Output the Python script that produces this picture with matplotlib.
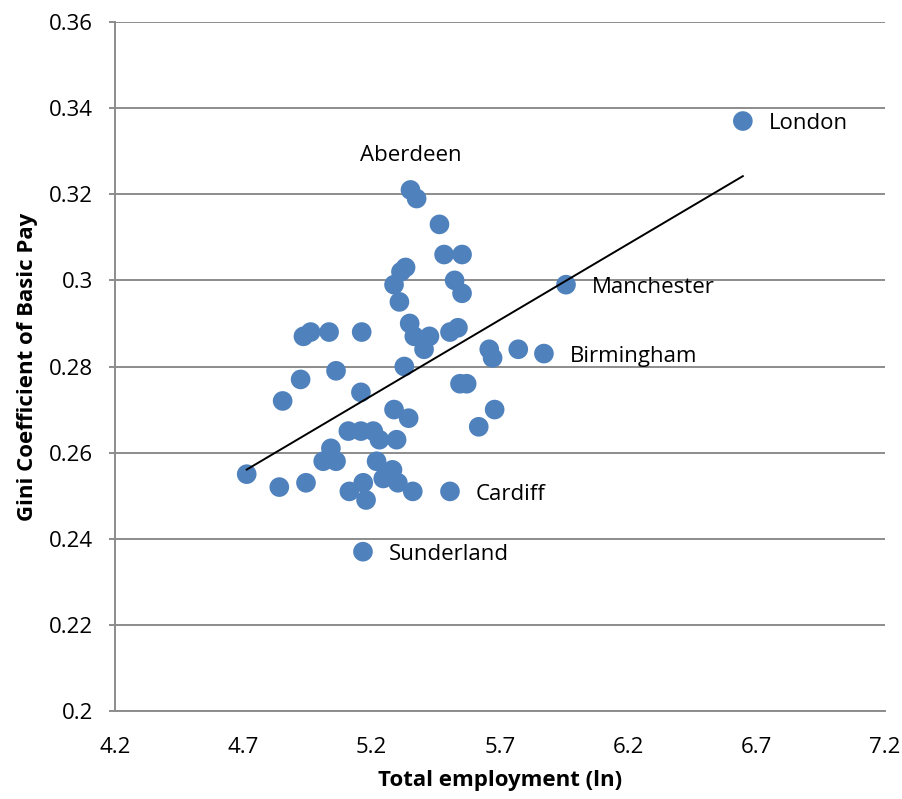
import numpy as np
import matplotlib
matplotlib.use("Agg")
import matplotlib.pyplot as plt

# Log total employment (x) and Gini coefficient of basic pay (y) by city
employment_ln = [
    6.646, 5.957, 5.871, 5.505, 5.166, 5.351, 5.375, 5.464, 5.482, 5.552,
    5.332, 5.314, 5.287, 5.523, 5.552, 5.308, 4.934, 4.962, 5.034, 5.161,
    5.348, 5.366, 5.425, 5.404, 5.505, 5.536, 5.658, 5.671, 5.771, 5.327,
    5.061, 4.923, 5.544, 5.570, 4.853, 5.158, 5.287, 5.344, 5.679, 5.617,
    5.109, 5.158, 5.206, 5.230, 5.297, 5.041, 5.011, 5.061, 5.219, 5.281,
    5.245, 5.302, 4.713, 4.840, 4.944, 5.167, 5.113, 5.178, 5.360,
]
gini = [
    0.337, 0.299, 0.283, 0.251, 0.237, 0.321, 0.319, 0.313, 0.306, 0.306,
    0.303, 0.302, 0.299, 0.300, 0.297, 0.295, 0.287, 0.288, 0.288, 0.288,
    0.290, 0.287, 0.287, 0.284, 0.288, 0.289, 0.284, 0.282, 0.284, 0.280,
    0.279, 0.277, 0.276, 0.276, 0.272, 0.274, 0.270, 0.268, 0.270, 0.266,
    0.265, 0.265, 0.265, 0.263, 0.263, 0.261, 0.258, 0.258, 0.258, 0.256,
    0.254, 0.253, 0.255, 0.252, 0.253, 0.253, 0.251, 0.249, 0.251,
]
# Named cities: index into the arrays
city_names = ["London", "Manchester", "Birmingham", "Cardiff", "Sunderland", "Aberdeen"]
city_index = [0, 1, 2, 3, 4, 5]

x_ticks = [4.2, 4.7, 5.2, 5.7, 6.2, 6.7, 7.2]
y_ticks = [0.2, 0.22, 0.24, 0.26, 0.28, 0.3, 0.32, 0.34, 0.36]
y_tick_labels = ["0.2", "0.22", "0.24", "0.26", "0.28", "0.3", "0.32", "0.34", "0.36"]

font = "Open Sans"
plt.rcParams["font.family"] = [font, "DejaVu Sans"]

fig = plt.figure(figsize=(9.03, 7.99), dpi=100)
ax = fig.add_axes([0.1274, 0.1101, 0.8527, 0.8624])

grid_col = "#8c8c8c"
ax.set_xlim(4.2, 7.2)
ax.set_ylim(0.2, 0.36)
ax.set_yticks(y_ticks)
ax.set_yticklabels(y_tick_labels)
ax.set_xticks(x_ticks)
ax.set_xticklabels([f"{t:.1f}" for t in x_ticks])
ax.yaxis.grid(True, color=grid_col, linewidth=1.4)
ax.set_axisbelow(True)
for side in ("top", "right"):
    ax.spines[side].set_visible(False)
for side in ("left", "bottom"):
    ax.spines[side].set_color(grid_col)
    ax.spines[side].set_linewidth(1.4)
ax.tick_params(axis="y", length=4, color=grid_col, width=1.4, labelsize=16, pad=12)
ax.tick_params(axis="x", length=0, labelsize=16, pad=19)

x = np.array(employment_ln)
y = np.array(gini)
ax.scatter(x, y, s=200, color="#4F81BD", edgecolors="none", zorder=3)

# Linear trend line across the observed range
slope, intercept = np.polyfit(x, y, 1)
xs = np.array([x.min(), x.max()])
ax.plot(xs, slope * xs + intercept, color="black", linewidth=1.4, zorder=4)

for name, i in zip(city_names, city_index):
    if name == "Aberdeen":
        ax.annotate(name, (x[i], y[i]), xytext=(0, 25), textcoords="offset points",
                    ha="center", va="center", fontsize=16)
    else:
        ax.annotate(name, (x[i], y[i]), xytext=(18.5, -2), textcoords="offset points",
                    ha="left", va="center", fontsize=16)

ax.set_xlabel("Total employment (ln)", fontsize=16, fontweight="bold", labelpad=8)
ax.set_ylabel("Gini Coefficient of Basic Pay", fontsize=16, fontweight="bold", labelpad=8)

fig.savefig("out.png", dpi=100)
